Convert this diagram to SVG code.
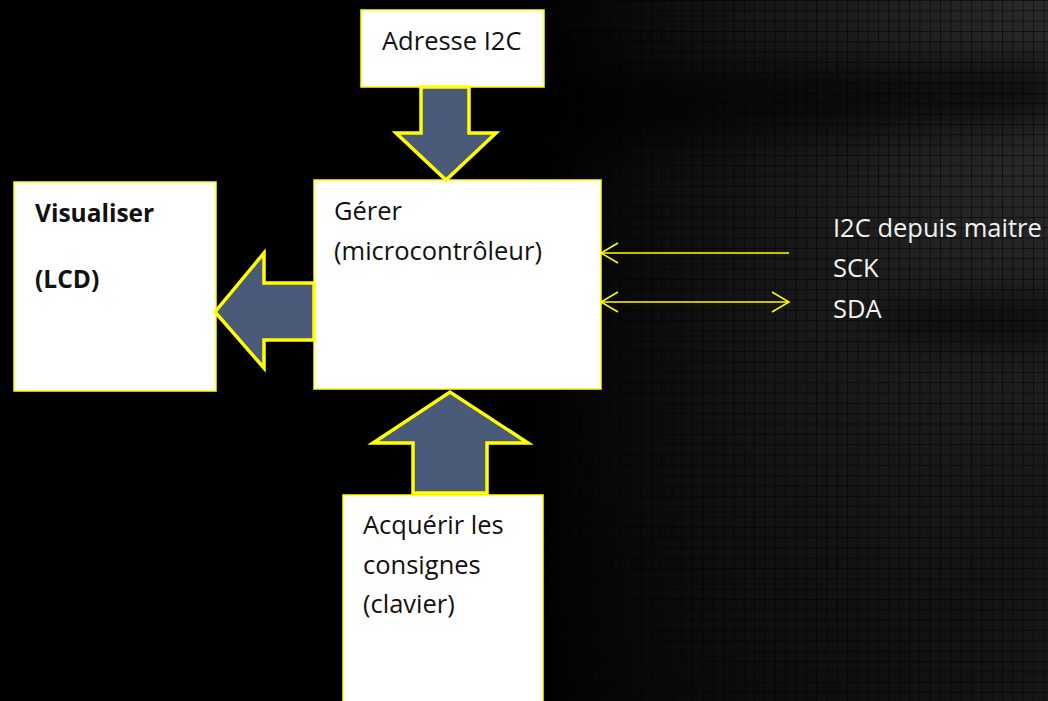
<svg xmlns="http://www.w3.org/2000/svg" width="1048" height="701" viewBox="0 0 1048 701">
  <style>
    .box { fill: #ffffff; stroke: #ffff00; stroke-width: 1.5; }
    .blk { fill: #4a5a79; stroke: #ffff00; stroke-width: 3.5; stroke-linejoin: miter; }
    .lbl { font-family: "Open Sans", "Liberation Sans", sans-serif; font-size: 25.5px; fill: #111111; }
    .bold { font-family: "Open Sans", "Liberation Sans", sans-serif; font-size: 24.5px; font-weight: bold; fill: #111111; }
    .side { font-family: "Open Sans", "Liberation Sans", sans-serif; font-size: 25.5px; fill: #f2f2f2; }
    .wire { stroke: #ffff00; stroke-width: 1.5; fill: none; }
  </style>
  <defs>
    <pattern id="grid" width="10.33" height="10.33" patternUnits="userSpaceOnUse">
      <rect width="10.33" height="10.33" fill="#2c2c2c"/>
      <path d="M0,0.5 H10.33 M0.5,0 V10.33" stroke="#131313" stroke-width="1"/>
    </pattern>
    <linearGradient id="fadeX" x1="0" y1="0" x2="1" y2="0">
      <stop offset="0" stop-color="#fff" stop-opacity="0"/>
      <stop offset="0.5" stop-color="#fff" stop-opacity="0"/>
      <stop offset="0.72" stop-color="#fff" stop-opacity="0.5"/>
      <stop offset="1" stop-color="#fff" stop-opacity="1"/>
    </linearGradient>
    <mask id="gridMask" maskUnits="userSpaceOnUse" x="0" y="0" width="1048" height="701">
      <rect width="1048" height="701" fill="url(#fadeX)"/>
    </mask>
    <linearGradient id="cornerShade" x1="0" y1="0" x2="0.6" y2="1">
      <stop offset="0" stop-color="#000" stop-opacity="0"/>
      <stop offset="0.6" stop-color="#000" stop-opacity="0.05"/>
      <stop offset="1" stop-color="#000" stop-opacity="0.5"/>
    </linearGradient>
    <filter id="soft" x="-30%" y="-200%" width="160%" height="500%">
      <feGaussianBlur stdDeviation="18"/>
    </filter>
    <marker id="chev" viewBox="0 0 20 22" refX="18" refY="11" markerWidth="20" markerHeight="22" markerUnits="userSpaceOnUse" orient="auto-start-reverse">
      <path d="M1,1 L18,11 L1,21" fill="none" stroke="#ffff00" stroke-width="1.5"/>
    </marker>
  </defs>

  <!-- backdrop: black field with a textured grid that brightens to the right -->
  <g id="backdrop">
    <rect width="1048" height="701" fill="#000"/>
    <rect width="1048" height="701" fill="url(#grid)" mask="url(#gridMask)"/>
    <rect x="500" y="0" width="548" height="701" fill="url(#cornerShade)"/>
    <path d="M540,70 L1060,60 L1060,120 L540,150 Z" fill="#000" opacity="0.6" filter="url(#soft)"/>
    <ellipse cx="1000" cy="320" rx="130" ry="22" fill="#000" opacity="0.6" filter="url(#soft)"/>
  </g>

  <g id="node-adresse">
    <rect class="box" x="361" y="10" width="183" height="77"/>
    <text class="lbl" x="382" y="50">Adresse I2C</text>
  </g>

  <g id="node-gerer">
    <rect class="box" x="314" y="180" width="287" height="209"/>
    <text class="lbl" x="334" y="220">Gérer</text>
    <text class="lbl" x="334" y="260">(microcontrôleur)</text>
  </g>

  <g id="node-visualiser">
    <rect class="box" x="14" y="182" width="202" height="209"/>
    <text class="bold" x="35" y="222">Visualiser</text>
    <text class="bold" x="35" y="288">(LCD)</text>
  </g>

  <g id="node-acquerir">
    <rect class="box" x="343" y="495" width="200" height="215"/>
    <text class="lbl" x="363" y="534">Acquérir les</text>
    <text class="lbl" x="363" y="574">consignes</text>
    <text class="lbl" x="363" y="613">(clavier)</text>
  </g>

  <g id="connectors">
    <!-- block arrows -->
    <polygon class="blk" points="421,87 469,87 469,133 496,133 446,180 396,133 421,133"/>
    <polygon class="blk" points="314,283 264,283 264,253 215,312 264,368 264,340 314,340"/>
    <polygon class="blk" points="413,493 413,443 373,443 450,392 528,443 487,443 487,493"/>
    <!-- bus lines -->
    <line class="wire" x1="789" y1="253" x2="601" y2="253" marker-end="url(#chev)"/>
    <line class="wire" x1="601" y1="302" x2="789" y2="302" marker-start="url(#chev)" marker-end="url(#chev)"/>
  </g>

  <g id="node-bus">
    <text class="side" x="833" y="237">I2C depuis maitre</text>
    <text class="side" x="833" y="277">SCK</text>
    <text class="side" x="833" y="318">SDA</text>
  </g>
</svg>
